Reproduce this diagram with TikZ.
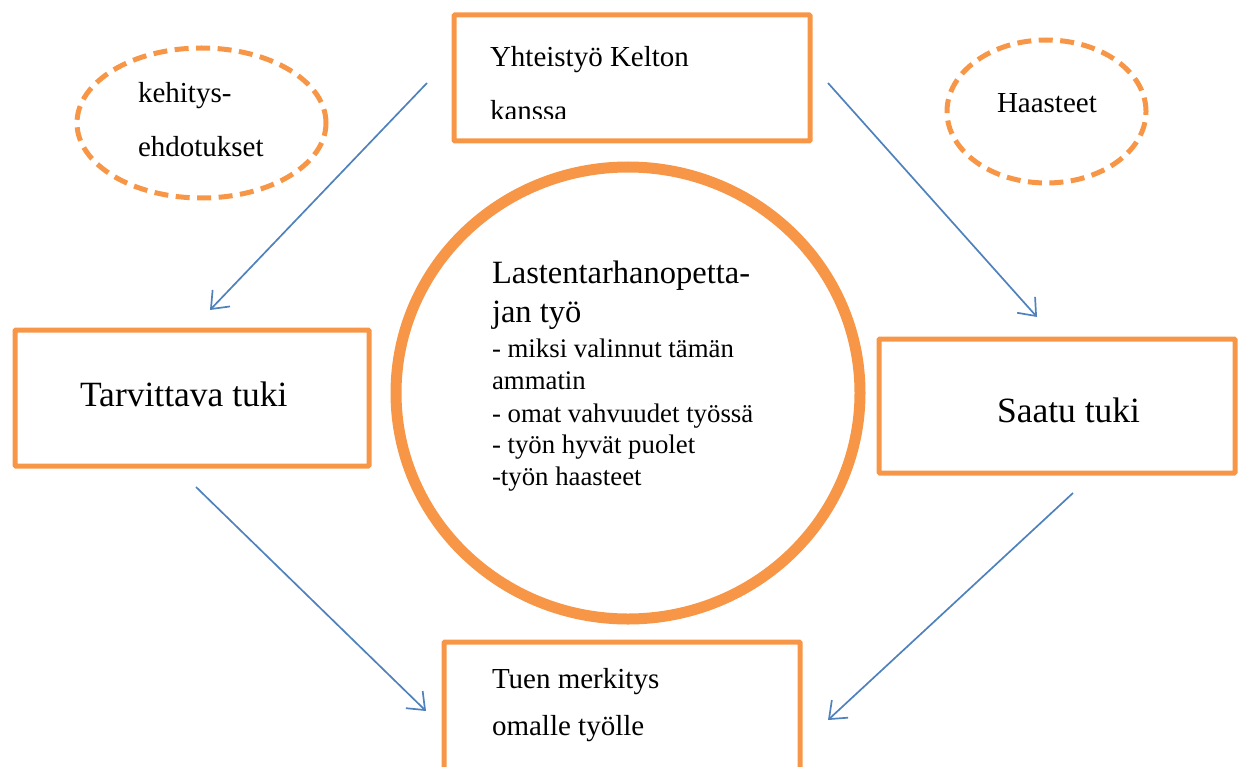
\documentclass[tikz,border=0pt]{standalone}
\usepackage{fontspec}
\setmainfont{Liberation Serif}
\usetikzlibrary{shapes.geometric,arrows.meta}
\definecolor{accorange}{HTML}{F79646}
\definecolor{accblue}{HTML}{4F81BD}
\newcommand{\txtnormal}{\fontsize{29}{34}\selectfont}
\newcommand{\txtbig}{\fontsize{35.5}{40}\selectfont}
\newcommand{\txthead}{\fontsize{32.5}{38}\selectfont}
\newcommand{\txtsmall}{\fontsize{26.8}{31}\selectfont}
\tikzset{
  obox/.style={draw=accorange, line width=5pt, rectangle, rounded corners=1pt, inner sep=0pt},
  dellipse/.style={draw=accorange, line width=5pt, ellipse, inner sep=0pt,
    dash pattern=on 14pt off 7.5pt},
  bigring/.style={draw=accorange, line width=11pt, ellipse, inner sep=0pt},
  lbl/.style={anchor=base west, inner sep=0pt, outer sep=0pt, text=black},
  flow/.style={draw=accblue, line width=1.7pt,
    -{Straight Barb[length=15pt, width=24pt, line width=1.7pt]}}
}
\begin{document}
\begin{tikzpicture}[x=1pt, y=-1pt]
\useasboundingbox (0,0) rectangle (1238,767);
\clip (0,0) rectangle (1238,767);

% boxes
\node[obox, minimum width=356pt, minimum height=126pt] (coop) at (632,78) {};
\node[obox, minimum width=354pt, minimum height=136pt] (need) at (192,398) {};
\node[obox, minimum width=356pt, minimum height=134pt] (got) at (1057,406) {};
\node[obox, minimum width=356pt, minimum height=160pt] (mean) at (622,722) {};

% dashed ellipses
\node[dellipse, minimum width=249pt, minimum height=150pt] (dev) at (201.5,123) {};
\node[dellipse, minimum width=199pt, minimum height=143pt] (chal) at (1046.5,111.5) {};

% central ring
\node[bigring, minimum width=464pt, minimum height=452pt] (work) at (628,393) {};

% texts
\node[lbl] (coopA) at (490,67) {\txtnormal Yhteistyö Kelton};
\begin{scope}
  \clip (454,15) rectangle (810,118.5);
  \node[lbl] (coopB) at (490,120.5) {\txtnormal kanssa};
\end{scope}

\node[lbl] (devA) at (138,103) {\txtnormal kehitys-};
\node[lbl] (devB) at (138,157) {\txtnormal ehdotukset};
\node[lbl] (chalA) at (997,113) {\txtnormal Haasteet};

\node[lbl] (needT) at (80,406) {\txtbig Tarvittava tuki};
\node[lbl] (gotT) at (997,422) {\txtbig Saatu tuki};

\node[lbl] (meanA) at (492,688) {\txtnormal Tuen merkitys};
\node[lbl] (meanB) at (492,735) {\txtnormal omalle työlle};

\node[lbl] (wA) at (492,283) {\txthead Lastentarhanopetta-};
\node[lbl] (wB) at (492,322) {\txthead jan työ};
\node[lbl] (wC) at (492,357) {\txtsmall - miksi valinnut tämän};
\node[lbl] (wD) at (492,389) {\txtsmall ammatin};
\node[lbl] (wE) at (492,422) {\txtsmall - omat vahvuudet työssä};
\node[lbl] (wF) at (492,453) {\txtsmall - työn hyvät puolet};
\node[lbl] (wG) at (492,485) {\txtsmall -työn haasteet};

% connector end points
\coordinate (s1) at (427,83);
\coordinate (e1) at (210,310);
\coordinate (s2) at (828,83);
\coordinate (e2) at (1037,317);
\coordinate (s3) at (196,487);
\coordinate (e3) at (426,711);
\coordinate (s4) at (1073,493);
\coordinate (e4) at (828,720);

\draw[flow] (s1) -- (e1);
\draw[flow] (s2) -- (e2);
\draw[flow] (s3) -- (e3);
\draw[flow] (s4) -- (e4);
\end{tikzpicture}
\end{document}
